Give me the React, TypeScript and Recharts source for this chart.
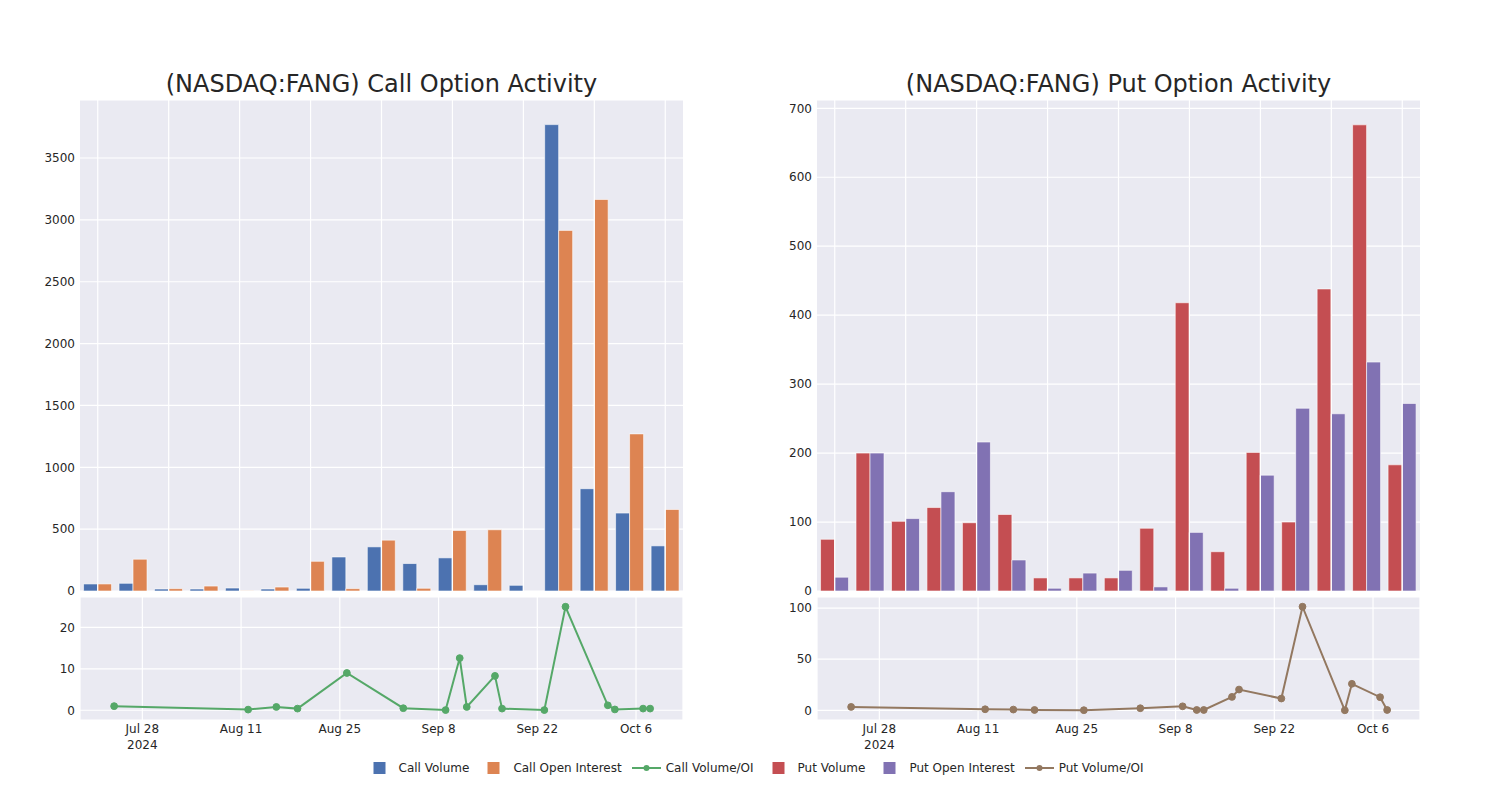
import React from 'react';
import {
  BarChart,
  Bar,
  LineChart,
  Line,
  XAxis,
  YAxis,
  CartesianGrid,
  ReferenceLine,
} from 'recharts';

// trade dates shared by both panels
const dates = [
  '2024-07-24', '2024-08-12', '2024-08-16', '2024-08-19', '2024-08-26',
  '2024-09-03', '2024-09-09', '2024-09-11', '2024-09-12', '2024-09-16',
  '2024-09-17', '2024-09-23', '2024-09-26', '2024-10-02', '2024-10-03',
  '2024-10-07', '2024-10-08',
];

const callVolume = [57, 62, 16, 16, 24, 16, 22, 275, 357, 222, 268, 51, 46, 3770, 827, 630, 365];
const callOpenInterest = [57, 257, 19, 40, 2, 32, 240, 19, 411, 22, 489, 495, 0, 2915, 3165, 1270, 659];
const callRatio = [1.0, 0.16, 0.8, 0.4, 9.0, 0.5, 0.05, 12.6, 0.8, 8.3, 0.4, 0.05, 25.0, 1.2, 0.2, 0.4, 0.4];

const putVolume = [75, 200, 101, 121, 99, 111, 19, 19, 19, 91, 418, 57, 201, 100, 438, 676, 183];
const putOpenInterest = [20, 200, 105, 144, 216, 45, 4, 26, 30, 6, 85, 4, 168, 265, 257, 332, 272];
const putRatio = [3.3, 1.0, 0.7, 0.3, 0.1, 2.0, 3.9, 0.3, 0.3, 13.1, 20.3, 11.5, 101.3, 0, 25.9, 12.8, 0.3];

const tickDates = ['2024-07-28', '2024-08-11', '2024-08-25', '2024-09-08', '2024-09-22', '2024-10-06'];
const tickLabels = ['Jul 28', 'Aug 11', 'Aug 25', 'Sep 8', 'Sep 22', 'Oct 6'];

const callTicks = [0, 500, 1000, 1500, 2000, 2500, 3000, 3500];
const putTicks = [0, 100, 200, 300, 400, 500, 600, 700];
const callRatioTicks = [0, 10, 20];
const putRatioTicks = [0, 50, 100];

const DAY = 86400000;
const dayNum = (s: string) => Date.parse(s + 'T00:00:00Z') / DAY;

const FONT = '"DejaVu Sans", sans-serif';
const TEXT = '#262626';
const BG = '#EAEAF2';
const FS = 12;

const C = {
  callVol: '#4C72B0',
  callOI: '#DD8452',
  callRatio: '#55A868',
  putVol: '#C44E52',
  putOI: '#8172B3',
  putRatio: '#937860',
};

const dayTicks = tickDates.map(dayNum);
const xStart = dayNum('2024-07-28');
const dateDomain = [xStart - 8.84, xStart + 76.66];

// the bar panels have a vertical grid line on every other group
const gridGroups = dates.filter((_, i) => i % 2 === 0);

const DateTick = (props: any) => {
  const { x, y, index } = props;
  return (
    <g>
      <text x={x} y={y} dy={13} textAnchor="middle" fill={TEXT} fontSize={FS} fontFamily={FONT}>
        {tickLabels[index]}
      </text>
      {index === 0 && (
        <text x={x} y={y} dy={28.5} textAnchor="middle" fill={TEXT} fontSize={FS} fontFamily={FONT}>
          2024
        </text>
      )}
    </g>
  );
};

interface PanelProps {
  left: number;
  title: string;
  vol: number[];
  oi: number[];
  ratio: number[];
  volColor: string;
  oiColor: string;
  ratioColor: string;
  barTicks: number[];
  barMax: number;
  ratioTicks: number[];
  ratioDomain: number[];
}

const Panel = (p: PanelProps) => {
  const barData = dates.map((d, i) => ({ date: d, vol: p.vol[i], oi: p.oi[i] }));
  const lineData = dates.map((d, i) => ({ t: dayNum(d), ratio: p.ratio[i] }));
  const tickStyle = { fill: TEXT, fontSize: FS, fontFamily: FONT };

  return (
    <>
      <div
        style={{
          position: 'absolute',
          left: p.left + 80,
          top: 70,
          width: 603,
          textAlign: 'center',
          fontSize: 24,
          lineHeight: '28px',
          color: TEXT,
          fontFamily: FONT,
          whiteSpace: 'nowrap',
        }}
      >
        {p.title}
      </div>
      <div style={{ position: 'absolute', left: p.left, top: 0 }}>
        <BarChart
          width={700}
          height={600}
          data={barData}
          margin={{ top: 100, right: 17, bottom: 9, left: 0 }}
          barCategoryGap="10%"
          barGap={0}
        >
          <CartesianGrid fill={BG} stroke="#ffffff" strokeWidth={1.2} vertical={false} />
          <XAxis dataKey="date" height={0} tick={false} tickLine={false} axisLine={false} />
          <YAxis
            width={80}
            domain={[0, p.barMax]}
            ticks={p.barTicks}
            allowDataOverflow
            axisLine={false}
            tickLine={false}
            tickSize={0}
            tickMargin={5}
            tick={tickStyle}
          />
          {gridGroups.map((d) => (
            <ReferenceLine key={d} x={d} stroke="#ffffff" strokeWidth={1.2} />
          ))}
          <Bar dataKey="vol" fill={p.volColor} stroke="#ffffff" strokeWidth={0.6} isAnimationActive={false} />
          <Bar dataKey="oi" fill={p.oiColor} stroke="#ffffff" strokeWidth={0.6} isAnimationActive={false} />
        </BarChart>
      </div>
      <div style={{ position: 'absolute', left: p.left, top: 587 }}>
        <LineChart
          width={700}
          height={170}
          data={lineData}
          margin={{ top: 10, right: 17, bottom: 0, left: 0 }}
        >
          <CartesianGrid fill={BG} stroke="#ffffff" strokeWidth={1.2} />
          <XAxis
            dataKey="t"
            type="number"
            domain={dateDomain}
            allowDataOverflow
            ticks={dayTicks}
            interval={0}
            height={37}
            axisLine={false}
            tickLine={false}
            tickSize={0}
            tickMargin={0}
            tick={<DateTick />}
          />
          <YAxis
            width={80}
            domain={p.ratioDomain}
            ticks={p.ratioTicks}
            allowDataOverflow
            axisLine={false}
            tickLine={false}
            tickSize={0}
            tickMargin={5}
            tick={tickStyle}
          />
          <Line
            type="linear"
            dataKey="ratio"
            stroke={p.ratioColor}
            strokeWidth={2}
            dot={{ r: 3.4, fill: p.ratioColor, stroke: p.ratioColor, strokeWidth: 1 }}
            isAnimationActive={false}
          />
        </LineChart>
      </div>
    </>
  );
};

const legendItems = [
  { name: 'Call Volume', color: C.callVol, kind: 'bar' },
  { name: 'Call Open Interest', color: C.callOI, kind: 'bar' },
  { name: 'Call Volume/OI', color: C.callRatio, kind: 'line' },
  { name: 'Put Volume', color: C.putVol, kind: 'bar' },
  { name: 'Put Open Interest', color: C.putOI, kind: 'bar' },
  { name: 'Put Volume/OI', color: C.putRatio, kind: 'line' },
];

const Legend = () => (
  <div
    style={{
      position: 'absolute',
      top: 760,
      left: 4,
      width: 1500,
      height: 16,
      display: 'flex',
      justifyContent: 'center',
      alignItems: 'center',
      fontFamily: FONT,
      fontSize: FS,
      color: TEXT,
    }}
  >
    {legendItems.map((it, i) => (
      <div key={it.name} style={{ display: 'flex', alignItems: 'center', marginLeft: i === 0 ? 0 : 10 }}>
        <svg width={29} height={14} style={{ marginRight: 5 }}>
          {it.kind === 'bar' ? (
            <rect x={8.5} y={1} width={12} height={12} fill={it.color} />
          ) : (
            <g>
              <line x1={0} y1={7} x2={29} y2={7} stroke={it.color} strokeWidth={2} />
              <circle cx={14.5} cy={7} r={3} fill={it.color} />
            </g>
          )}
        </svg>
        <span>{it.name}</span>
      </div>
    ))}
  </div>
);

export default function App() {
  return (
    <div
      style={{
        position: 'absolute',
        left: 0,
        top: 0,
        width: 1500,
        height: 800,
        background: '#ffffff',
        overflow: 'hidden',
      }}
    >
      <Panel
        left={0}
        title="(NASDAQ:FANG) Call Option Activity"
        vol={callVolume}
        oi={callOpenInterest}
        ratio={callRatio}
        volColor={C.callVol}
        oiColor={C.callOI}
        ratioColor={C.callRatio}
        barTicks={callTicks}
        barMax={3969}
        ratioTicks={callRatioTicks}
        ratioDomain={[-2.35, 27.35]}
      />
      <Panel
        left={737}
        title="(NASDAQ:FANG) Put Option Activity"
        vol={putVolume}
        oi={putOpenInterest}
        ratio={putRatio}
        volColor={C.putVol}
        oiColor={C.putOI}
        ratioColor={C.putRatio}
        barTicks={putTicks}
        barMax={712}
        ratioTicks={putRatioTicks}
        ratioDomain={[-9.5, 110.8]}
      />
      <Legend />
    </div>
  );
}
